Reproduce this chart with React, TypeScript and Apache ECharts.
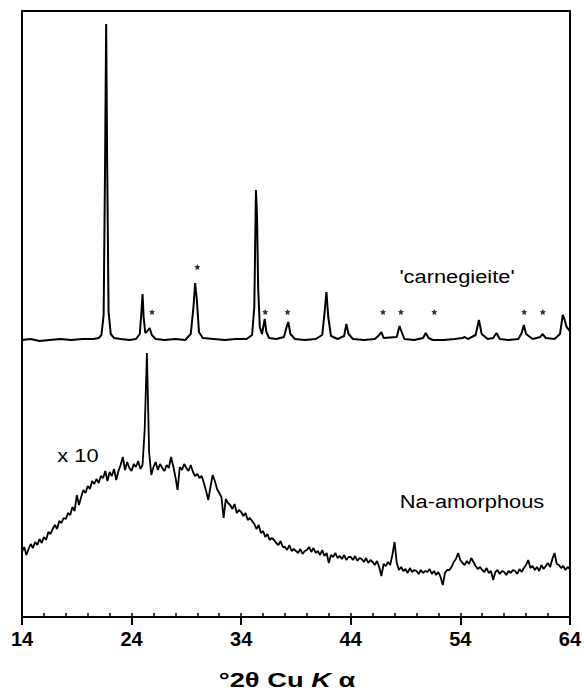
import React, { useEffect, useRef } from "react";
import * as echarts from "echarts";

// ---- axis definition ----
const X_MIN = 14;
const X_MAX = 64;
const X_MAJOR = 10; // labelled ticks 14, 24, ... 64
const X_MINOR = 2;
const Y_MIN = 0;
const Y_MAX = 606; // arbitrary intensity units

// ---- 'carnegieite' pattern: [°2θ, intensity] ----
const carnegieite: [number, number][] = [
  [14.0, 277], [14.8, 278], [15.6, 276], [16.5, 277], [17.5, 278], [18.5, 277], [19.5, 278], [20.5, 278],
  [21.0, 279], [21.25, 282], [21.45, 302], [21.58, 450], [21.68, 593], [21.76, 470], [21.9, 305], [22.1, 283],
  [22.4, 279], [23.0, 278], [23.8, 277], [24.4, 278], [24.75, 283], [24.9, 305], [25.0, 323], [25.1, 300],
  [25.25, 284], [25.45, 286], [25.65, 289], [25.85, 282], [26.2, 278], [27.0, 277], [28.0, 278], [28.9, 277],
  [29.4, 283], [29.65, 310], [29.8, 334], [29.95, 318], [30.15, 285], [30.5, 279], [31.5, 278], [32.5, 277],
  [33.5, 278], [34.5, 278], [35.0, 282], [35.2, 310], [35.35, 427], [35.45, 400], [35.55, 330], [35.7, 290],
  [35.9, 283], [36.15, 298], [36.3, 285], [36.55, 279], [37.2, 278], [37.9, 280], [38.15, 290], [38.3, 295],
  [38.5, 283], [38.9, 278], [39.8, 277], [40.8, 278], [41.4, 282], [41.62, 305], [41.78, 325], [41.95, 300],
  [42.2, 281], [42.8, 278], [43.4, 281], [43.6, 293], [43.8, 283], [44.2, 278], [45.2, 277], [46.2, 278],
  [46.6, 282], [46.8, 285], [47.0, 279], [48.2, 280], [48.45, 291], [48.65, 285], [48.9, 278], [49.8, 277],
  [50.6, 279], [50.85, 284], [51.1, 279], [51.5, 277], [52.5, 277], [53.5, 278], [54.2, 279], [54.4, 280],
  [54.7, 278], [55.4, 282], [55.7, 297], [55.95, 283], [56.5, 278], [57.0, 279], [57.3, 284], [57.6, 278],
  [58.4, 277], [59.3, 278], [59.6, 284], [59.8, 292], [60.0, 283], [60.6, 278], [61.3, 280], [61.5, 283],
  [61.8, 279], [62.6, 278], [63.1, 283], [63.35, 302], [63.5, 298], [63.7, 290], [63.85, 288], [64.0, 286],
];

// peaks marked with an asterisk: [°2θ, intensity of the mark]
const starredPeaks: [number, number][] = [
  [25.87, 305], [30.0, 350], [36.2, 305], [38.24, 305], [46.95, 305],
  [48.58, 305], [51.63, 305], [59.83, 305], [61.53, 305],
];

// ---- Na-amorphous pattern (x10), sampled every 0.2 °2θ from 14.0 to 64.0 ----
const AMORPH_START = 14;
const AMORPH_STEP = 0.2;
const naAmorphous: number[] = [
  65, 70, 62, 68, 73, // 14
  69, 75, 72, 78, 74, // 15
  80, 77, 85, 83, 88, // 16
  92, 88, 96, 94, 99, // 17
  98, 104, 102, 110, 106, // 18
  122, 112, 120, 127, 124, // 19
  131, 128, 136, 133, 138, // 20
  134, 141, 139, 146, 136, // 21
  145, 141, 148, 137, 146, // 22
  152, 160, 147, 155, 149, // 23
  146, 153, 150, 156, 148, // 24
  152, 188, 264, 165, 142, // 25
  150, 155, 147, 153, 149, // 26
  146, 152, 149, 160, 151, // 27
  140, 127, 150, 147, 153, // 28
  149, 146, 152, 145, 141, // 29
  143, 139, 141, 134, 126, // 30
  117, 130, 142, 136, 128, // 31
  124, 120, 99, 118, 114, // 32
  112, 108, 113, 104, 107, // 33
  105, 101, 104, 97, 99, // 34
  96, 93, 88, 92, 84, // 35
  86, 80, 83, 77, 79, // 36
  77, 74, 72, 76, 70, // 37
  70, 67, 72, 66, 68, // 38
  66, 64, 68, 63, 66, // 39
  67, 70, 65, 69, 64, // 40
  66, 62, 67, 61, 64, // 41
  54, 62, 60, 64, 59, // 42
  61, 58, 62, 57, 60, // 43
  60, 57, 61, 56, 59, // 44
  58, 55, 59, 54, 57, // 45
  55, 52, 56, 50, 41, // 46
  53, 51, 55, 52, 62, // 47
  75, 54, 47, 50, 46, // 48
  48, 44, 49, 45, 47, // 49
  46, 43, 47, 44, 46, // 50
  45, 48, 43, 46, 42, // 51
  45, 40, 32, 44, 47, // 52
  47, 50, 55, 58, 64, // 53
  57, 54, 52, 56, 53, // 54
  59, 55, 51, 48, 50, // 55
  47, 45, 49, 44, 46, // 56
  37, 45, 47, 43, 46, // 57
  45, 42, 46, 44, 47, // 58
  46, 43, 48, 45, 49, // 59
  52, 57, 49, 51, 47, // 60
  50, 46, 52, 48, 51, // 61
  54, 50, 58, 64, 53, // 62
  52, 49, 51, 47, 50, // 63
  48, // 64
];

const STAR_PATH =
  "path://M0,-10 L2.9,-4 9.5,-3.1 4.7,1.5 5.9,8.1 0,5 -5.9,8.1 -4.7,1.5 -9.5,-3.1 -2.9,-4 Z";

const FONT = "'Liberation Sans', Arial, Helvetica, sans-serif";

export default function App() {
  const ref = useRef<HTMLDivElement>(null);

  useEffect(() => {
    if (!ref.current) return;
    const chart = echarts.init(ref.current, undefined, { renderer: "svg" });

    const amorphData = naAmorphous.map((v, i) => [
      +(AMORPH_START + i * AMORPH_STEP).toFixed(1),
      v,
    ]);

    const frameLine = { show: true, lineStyle: { color: "#000", width: 2 } };

    chart.setOption({
      animation: false,
      backgroundColor: "#fff",
      grid: { left: 22, right: 13, top: 11, bottom: 78, containLabel: false },
      xAxis: [
        {
          type: "value",
          position: "bottom",
          min: X_MIN,
          max: X_MAX,
          interval: X_MAJOR,
          axisLine: frameLine,
          axisTick: { show: true, inside: false, length: 8, lineStyle: { color: "#000", width: 2 } },
          axisLabel: {
            show: true,
            margin: 12,
            showMinLabel: true,
            showMaxLabel: true,
            color: "#000",
            fontFamily: FONT,
            fontWeight: "bold",
            fontSize: 20,
          },
          splitLine: { show: false },
        },
        {
          type: "value",
          position: "bottom",
          min: X_MIN,
          max: X_MAX,
          interval: X_MINOR,
          axisLine: { show: false },
          axisTick: { show: true, inside: true, length: 4, lineStyle: { color: "#000", width: 1.5 } },
          axisLabel: { show: false },
          splitLine: { show: false },
        },
        {
          type: "value",
          position: "top",
          min: X_MIN,
          max: X_MAX,
          axisLine: frameLine,
          axisTick: { show: false },
          axisLabel: { show: false },
          splitLine: { show: false },
        },
      ],
      yAxis: [
        {
          type: "value",
          position: "left",
          min: Y_MIN,
          max: Y_MAX,
          axisLine: frameLine,
          axisTick: { show: false },
          axisLabel: { show: false },
          splitLine: { show: false },
        },
        {
          type: "value",
          position: "right",
          min: Y_MIN,
          max: Y_MAX,
          axisLine: frameLine,
          axisTick: { show: false },
          axisLabel: { show: false },
          splitLine: { show: false },
        },
      ],
      series: [
        {
          name: "'carnegieite'",
          type: "line",
          xAxisIndex: 0,
          yAxisIndex: 0,
          data: carnegieite,
          showSymbol: false,
          lineStyle: { color: "#000", width: 2 },
          z: 3,
        },
        {
          name: "Na-amorphous",
          type: "line",
          xAxisIndex: 0,
          yAxisIndex: 0,
          data: amorphData,
          showSymbol: false,
          lineStyle: { color: "#000", width: 1.8 },
          z: 3,
        },
        {
          name: "marked peaks",
          type: "scatter",
          xAxisIndex: 0,
          yAxisIndex: 0,
          data: starredPeaks,
          symbol: STAR_PATH,
          symbolSize: 6,
          itemStyle: { color: "#000" },
          z: 4,
        },
      ],
      graphic: [
        {
          type: "text",
          x: 457,
          y: 276,
          scaleX: 1.15,
          style: {
            text: "'carnegieite'",
            font: `19px ${FONT}`,
            fill: "#000",
            textAlign: "center",
            textVerticalAlign: "middle",
          },
        },
        {
          type: "text",
          x: 472,
          y: 501,
          scaleX: 1.15,
          style: {
            text: "Na-amorphous",
            font: `19px ${FONT}`,
            fill: "#000",
            textAlign: "center",
            textVerticalAlign: "middle",
          },
        },
        {
          type: "text",
          x: 78,
          y: 455,
          scaleX: 1.15,
          style: {
            text: "x 10",
            font: `19px ${FONT}`,
            fill: "#000",
            textAlign: "center",
            textVerticalAlign: "middle",
          },
        },
        {
          type: "text",
          x: 287,
          y: 680,
          scaleX: 1.3,
          style: {
            text: "{n|°2θ Cu }{i|K}{n| α}",
            fill: "#000",
            textAlign: "center",
            textVerticalAlign: "middle",
            rich: {
              n: { fontFamily: FONT, fontWeight: "bold", fontSize: 21, fill: "#000" },
              i: { fontFamily: FONT, fontWeight: "bold", fontStyle: "italic", fontSize: 21, fill: "#000" },
            },
          },
        },
      ],
    });

    return () => chart.dispose();
  }, []);

  return (
    <div
      ref={ref}
      style={{ position: "fixed", left: 0, top: 0, width: 584, height: 695 }}
    />
  );
}
